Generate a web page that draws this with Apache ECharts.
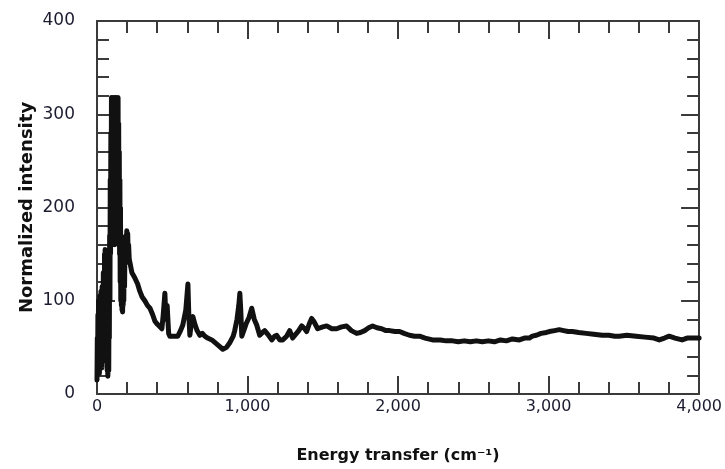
<!DOCTYPE html>
<html>
<head>
<meta charset="utf-8">
<script src="https://cdn.jsdelivr.net/npm/echarts@6/dist/echarts.min.js"></script>
<style>
  html, body { margin: 0; padding: 0; background: #fff; }
  #chart { width: 725px; height: 469px; }
</style>
</head>
<body>
<div id="chart"></div>
<script>
// Energy transfer (cm^-1) for each measured point
const energy = [
  0, 2, 4, 6, 8, 10, 12, 14, 16, 18, 20, 22, 24, 26, 28, 30, 32, 34, 36, 38,
  40, 42, 44, 46, 48, 50, 52, 54, 56, 58, 60, 62, 64, 66, 68, 70, 72, 74, 76, 78,
  80, 82, 84, 86, 88, 90, 92, 94, 96, 98, 100, 102, 104, 106, 108, 110, 112, 114, 116, 118,
  120, 122, 124, 126, 128, 130, 132, 134, 136, 138, 140, 142, 144, 146, 148, 150, 152, 154, 156, 158,
  160, 162, 164, 166, 168, 170, 172, 174, 176, 178, 180, 183, 186, 189, 192, 195, 198, 201, 204, 207,
  210, 214, 220, 232, 250, 270, 285, 300, 318, 335, 352, 370, 385, 400, 431, 440, 451, 458, 466, 476,
  484, 510, 537, 555, 570, 590, 604, 610, 617, 628, 637, 650, 665, 683, 700, 716, 735, 763, 800, 836,
  860, 882, 905, 915, 930, 942, 949, 955, 962, 975, 990, 1010, 1028, 1035, 1045, 1061, 1081, 1100, 1114, 1135,
  1161, 1180, 1194, 1214, 1234, 1260, 1280, 1300, 1313, 1340, 1360, 1380, 1393, 1410, 1426, 1440, 1466, 1500, 1526, 1560,
  1592, 1625, 1658, 1690, 1725, 1750, 1778, 1805, 1831, 1860, 1891, 1920, 1944, 1980, 2010, 2040, 2076, 2110, 2143, 2180,
  2229, 2280, 2320, 2362, 2400, 2440, 2480, 2520, 2560, 2600, 2640, 2680, 2720, 2760, 2806, 2840, 2872, 2892, 2919, 2950,
  2985, 3005, 3040, 3071, 3100, 3130, 3158, 3200, 3250, 3300, 3357, 3400, 3440, 3469, 3520, 3582, 3640, 3700, 3735, 3770,
  3801, 3840, 3887, 3920, 3960, 4000
];

// Normalized intensity at each energy
const intensity = [
  15, 60, 20, 85, 25, 100, 30, 70, 22, 105, 40, 95, 30, 110, 45, 80, 28, 115, 50, 100,
  35, 130, 55, 120, 40, 150, 70, 155, 60, 140, 90, 120, 50, 70, 25, 40, 19, 30, 60, 25,
  110, 60, 170, 100, 230, 150, 280, 180, 318, 200, 300, 160, 318, 210, 290, 170, 318, 230, 300, 160,
  318, 230, 318, 200, 310, 190, 318, 200, 300, 170, 318, 180, 290, 160, 260, 150, 230, 120, 200, 100,
  170, 95, 140, 90, 120, 88, 110, 95, 125, 100, 140, 115, 160, 140, 170, 150, 175, 155, 172, 150,
  160, 145, 140, 130, 125, 118, 110, 104, 100, 95, 92, 85, 78, 75, 70, 85, 108, 80, 95, 65,
  62, 62, 62, 68, 74, 90, 118, 85, 63, 78, 83, 75, 68, 63, 65, 62, 60, 58, 53, 48,
  50, 55, 62, 68, 80, 95, 108, 90, 62, 68, 75, 82, 92, 90, 80, 74, 63, 66, 68, 64,
  58, 62, 63, 58, 58, 62, 68, 60, 60, 68, 73, 70, 67, 75, 81, 78, 70, 72, 73, 70,
  70, 72, 73, 68, 65, 66, 68, 71, 73, 71, 70, 68, 68, 67, 67, 65, 63, 62, 62, 60,
  58, 58, 57, 57, 56, 57, 56, 57, 56, 57, 56, 58, 57, 59, 58, 60, 60, 62, 63, 65,
  66, 67, 68, 69, 68, 67, 67, 66, 65, 64, 63, 63, 62, 62, 63, 62, 61, 60, 58, 60,
  62, 60, 58, 60, 60, 60
];

// Tick values on both axes
const xTicks = [0, 1000, 2000, 3000, 4000];
const yTicks = [0, 100, 200, 300, 400];

const points = energy.map((e, i) => [e, intensity[i]]);

const textColor = '#1c1c30';
const frameColor = '#3a3a3a';
const font = 'DejaVu Sans, Verdana, sans-serif';

function withCommas(v) {
  return String(v).replace(/\B(?=(\d{3})+(?!\d))/g, ',');
}

const frameLine = { show: true, onZero: false, lineStyle: { color: frameColor, width: 2 } };
const majorTick = { show: true, inside: true, length: 18, lineStyle: { color: frameColor, width: 2 } };
const minorTick = { show: true, splitNumber: 5, length: 12, lineStyle: { color: frameColor, width: 2 } };

const chart = echarts.init(document.getElementById('chart'), null, { renderer: 'canvas' });
chart.setOption({
  animation: false,
  backgroundColor: '#fff',
  grid: { left: 97, right: 25, top: 21, bottom: 73 },
  xAxis: [
    {
      type: 'value', position: 'bottom',
      min: xTicks[0], max: xTicks[xTicks.length - 1], interval: 1000,
      axisLine: frameLine, axisTick: majorTick, minorTick: minorTick,
      splitLine: { show: false },
      axisLabel: { color: textColor, fontFamily: font, fontSize: 16, margin: 5, formatter: withCommas },
      name: 'Energy transfer (cm\u207B\u00B9)', nameLocation: 'middle', nameGap: 54,
      nameMoveOverlap: false,
      nameTextStyle: { color: '#111', fontFamily: font, fontSize: 16, fontWeight: 'bold' }
    },
    {
      type: 'value', position: 'top',
      min: xTicks[0], max: xTicks[xTicks.length - 1], interval: 1000,
      axisLine: frameLine, axisTick: majorTick, minorTick: minorTick,
      splitLine: { show: false }, axisLabel: { show: false }
    }
  ],
  yAxis: [
    {
      type: 'value', position: 'left',
      min: yTicks[0], max: yTicks[yTicks.length - 1], interval: 100,
      axisLine: frameLine, axisTick: majorTick, minorTick: minorTick,
      splitLine: { show: false },
      axisLabel: { color: textColor, fontFamily: font, fontSize: 17, margin: 22 },
      name: 'Normalized intensity', nameLocation: 'middle', nameGap: 61,
      nameMoveOverlap: false,
      nameTextStyle: { color: '#111', fontFamily: font, fontSize: 18, fontWeight: 'bold' }
    },
    {
      type: 'value', position: 'right',
      min: yTicks[0], max: yTicks[yTicks.length - 1], interval: 100,
      axisLine: frameLine, axisTick: majorTick, minorTick: minorTick,
      splitLine: { show: false }, axisLabel: { show: false }
    }
  ],
  series: [
    {
      type: 'line',
      xAxisIndex: 0, yAxisIndex: 0,
      data: points,
      showSymbol: false,
      lineStyle: { color: '#111', width: 5, join: 'round', cap: 'round' },
      itemStyle: { color: '#111' }
    }
  ]
});
</script>
</body>
</html>
